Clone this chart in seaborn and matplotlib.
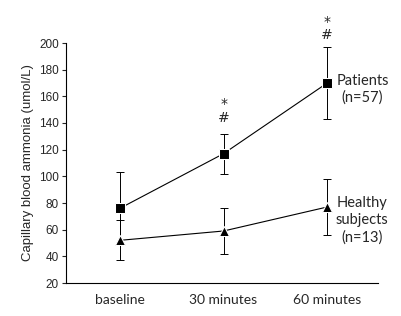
import matplotlib
matplotlib.use("Agg")
import matplotlib.pyplot as plt
import seaborn as sns
import pandas as pd

categories = ["baseline", "30 minutes", "60 minutes"]
patients_mean = [76, 117, 170]
patients_err = [27, 15, 27]
healthy_mean = [52, 59, 77]
healthy_err = [15, 17, 21]
yticks = [20, 40, 60, 80, 100, 120, 140, 160, 180, 200]

sns.set_theme(style="white")
plt.rcParams['font.family'] = ['Liberation Sans', 'DejaVu Sans']

df = pd.DataFrame({
    "x": list(range(3)) * 2,
    "y": patients_mean + healthy_mean,
    "group": ["Patients"] * 3 + ["Healthy"] * 3,
})

fig = plt.figure(figsize=(4.01, 3.16), dpi=100)
ax = fig.add_axes([66/401, 1 - 283/316, (378-66)/401, (283-43)/316])

for mean, err in [(patients_mean, patients_err), (healthy_mean, healthy_err)]:
    ax.errorbar(range(3), mean, yerr=err, fmt="none", ecolor="black",
                elinewidth=0.7, capsize=3, capthick=0.7, zorder=1)

sns.lineplot(data=df, x="x", y="y", style="group", markers={"Patients": "s", "Healthy": "^"},
             dashes=False, color="black", linewidth=0.8, markersize=6.5,
             legend=False, ax=ax, zorder=3)

ax.set_xlim(-0.52, 2.49)
ax.set_ylim(20, 200)
ax.set_yticks(yticks)
ax.set_yticklabels([str(t) for t in yticks], fontsize=8.5)
ax.set_xticks(range(3))
ax.set_xticklabels(categories, fontsize=10, family=['Lato', 'DejaVu Sans'])
ax.tick_params(axis='x', length=0, pad=8)
ax.tick_params(axis='y', length=3, width=0.8, direction='out', left=True, pad=2)
ax.set_xlabel("")
ax.set_ylabel("Capillary blood ammonia (umol/L)", fontsize=9.5, labelpad=4)
for s in ["top", "right"]:
    ax.spines[s].set_visible(False)
for s in ["left", "bottom"]:
    ax.spines[s].set_color("black")
    ax.spines[s].set_linewidth(0.8)

afont = dict(family=['Lato', 'DejaVu Sans'], fontsize=10.5, ha="center", va="center")
sfont = dict(family=['DejaVu Sans'], fontsize=10, ha="center", va="center")
ax.text(1, 149, "*\n#", **sfont, linespacing=0.95)
ax.text(2, 211, "*\n#", **sfont, linespacing=0.95, clip_on=False)

ax.text(2.34, 165.4, "Patients\n(n=57)", **afont, linespacing=1.25)
ax.text(2.34, 67, "Healthy\nsubjects\n(n=13)", **afont, linespacing=1.25)

fig.savefig("out.png", dpi=100)
